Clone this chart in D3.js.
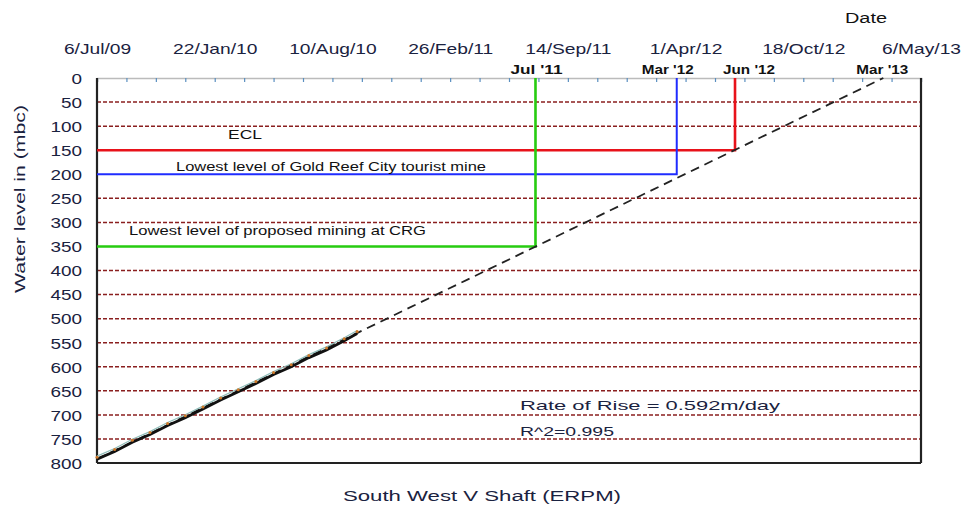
<!DOCTYPE html>
<html>
<head>
<meta charset="utf-8">
<script src="https://cdn.jsdelivr.net/npm/d3@7"></script>
<style>
  body { margin: 0; background: #fff; }
  svg { display: block; font-family: "Liberation Sans", Arial, sans-serif; }
</style>
</head>
<body>
<div id="chart"></div>
<script>
const parse = d3.timeParse("%Y-%m-%d");

// observed water level (metres below collar) at South West V Shaft
const obsDates = ["2009-07-06", "2009-08-05", "2009-09-04", "2009-10-04", "2009-11-03", "2009-12-03",
  "2010-01-02", "2010-02-01", "2010-03-03", "2010-04-02", "2010-05-02", "2010-06-01",
  "2010-07-01", "2010-07-31", "2010-08-30", "2010-09-21"];
const obsDepth = [792, 776, 757, 741, 722, 706, 688, 669, 652, 635, 616, 600, 581, 565, 546, 531];

// linear trend (rate of rise 0.592 m/day)
const trendDates = ["2009-07-06", "2013-03-03"];
const trendDepth = [792, 0];

// critical levels and the dates they are reached
const levelNames = ["ECL", "Lowest level of Gold Reef City tourist mine", "Lowest level of proposed mining at CRG"];
const levelDepth = [150, 200, 350];
const levelDates = ["2012-06-24", "2012-03-17", "2011-07-21"];
const levelColors = ["#e8121a", "#1f2cff", "#27cc10"];

const markerLabels = ["Jul '11", "Mar '12", "Jun '12", "Mar '13"];
const markerDates = ["2011-07-21", "2012-03-17", "2012-06-24", "2013-03-03"];

const yTicks = d3.range(0, 801, 50);
const gridDepth = [50, 100, 250, 300, 400, 450, 500, 550, 600, 650, 700, 750];

const width = 962, height = 512;
const margin = { top: 78, right: 41, bottom: 49, left: 97 };

const start = parse("2009-07-06");
const end = d3.timeDay.offset(start, 1400);

const x = d3.scaleTime().domain([start, end]).range([margin.left, width - margin.right]);
const y = d3.scaleLinear().domain([0, 800]).range([margin.top, height - margin.bottom]);

const svg = d3.select("#chart").append("svg")
  .attr("width", width).attr("height", height)
  .attr("viewBox", `0 0 ${width} ${height}`);

// stretch text a little wider, like the original picture
function widen(sel, k) {
  sel.each(function () {
    const w = this.getComputedTextLength();
    d3.select(this).attr("textLength", w * k).attr("lengthAdjust", "spacingAndGlyphs");
  });
}

// grid lines
svg.append("g").selectAll("line").data(gridDepth).join("line")
  .attr("x1", margin.left).attr("x2", width - margin.right)
  .attr("y1", d => y(d)).attr("y2", d => y(d))
  .attr("stroke", "#8a1f1f").attr("stroke-width", 1.5)
  .attr("stroke-dasharray", "4,2");

// top axis: minor ticks every 50 days, labels every 200 days
const minorTicks = d3.range(0, 1401, 50).map(d => d3.timeDay.offset(start, d));
const majorTicks = d3.range(0, 1401, 200).map(d => d3.timeDay.offset(start, d));

svg.append("g")
  .attr("transform", `translate(0,${margin.top})`)
  .call(d3.axisBottom(x).tickValues(minorTicks).tickSize(4).tickFormat(""))
  .call(g => g.select(".domain").attr("stroke", "#bbb").attr("stroke-width", 1.5))
  .call(g => g.selectAll(".tick line").attr("stroke", "#5a8fc0").attr("stroke-width", 1.2));

svg.append("g")
  .attr("transform", `translate(0,${margin.top})`)
  .call(d3.axisTop(x).tickValues(majorTicks).tickSize(0).tickPadding(24)
    .tickFormat(d3.timeFormat("%-d/%b/%y")))
  .call(g => g.select(".domain").remove())
  .call(g => g.selectAll(".tick text")
    .attr("font-size", 15).attr("fill", "#1a2240")
    .call(widen, 1.28));

// left axis
svg.append("g")
  .attr("transform", `translate(${margin.left},0)`)
  .call(d3.axisLeft(y).tickValues(yTicks).tickSize(0).tickPadding(15))
  .call(g => g.select(".domain").remove())
  .call(g => g.selectAll(".tick text")
    .attr("font-size", 14).attr("fill", "#1a2240")
    .attr("dy", "0.38em")
    .call(widen, 1.35));

// frame: left, bottom, right
const frame = svg.append("g").attr("stroke", "#222").attr("stroke-width", 2.2).attr("fill", "none");
frame.append("line").attr("x1", margin.left).attr("x2", margin.left).attr("y1", margin.top).attr("y2", y(800));
frame.append("line").attr("x1", margin.left).attr("x2", width - margin.right).attr("y1", y(800)).attr("y2", y(800));
frame.append("line").attr("x1", width - margin.right).attr("x2", width - margin.right).attr("y1", margin.top).attr("y2", y(800));

// critical levels
const levels = levelNames.map((n, i) => ({ name: n, depth: levelDepth[i], date: parse(levelDates[i]), color: levelColors[i] }));
svg.append("g").selectAll("path").data(levels).join("path")
  .attr("d", d => `M${margin.left},${y(d.depth)}H${x(d.date)}V${y(0)}`)
  .attr("fill", "none")
  .attr("stroke", d => d.color)
  .attr("stroke-width", (d, i) => i === 1 ? 2 : 2.6);

// level labels
const labelPos = [[228, 139, 34], [176, 171, 310], [129, 235, 297]];
svg.append("g").selectAll("text").data(levels).join("text")
  .attr("x", (d, i) => labelPos[i][0]).attr("y", (d, i) => labelPos[i][1])
  .attr("font-size", 13).attr("fill", "#111")
  .attr("textLength", (d, i) => labelPos[i][2]).attr("lengthAdjust", "spacingAndGlyphs")
  .text(d => d.name);

// trend line (dashed)
const trend = trendDates.map((d, i) => ({ date: parse(d), depth: trendDepth[i] }));
const line = d3.line().x(d => x(d.date)).y(d => y(d.depth));
svg.append("path")
  .attr("d", line(trend))
  .attr("fill", "none").attr("stroke", "#222").attr("stroke-width", 1.8)
  .attr("stroke-dasharray", "9,6");

// observed data
const obs = obsDates.map((d, i) => ({ date: parse(d), depth: obsDepth[i] }));
svg.append("path")
  .attr("d", line(obs))
  .attr("fill", "none").attr("stroke", "#8fbcb8").attr("stroke-width", 1.2)
  .attr("transform", "translate(0,-3)");
svg.append("path")
  .attr("d", line(obs))
  .attr("fill", "none").attr("stroke", "#111").attr("stroke-width", 2.8);
svg.append("g").selectAll("circle").data(obs).join("circle")
  .attr("cx", d => x(d.date)).attr("cy", d => y(d.depth) - 2).attr("r", 1.5)
  .attr("fill", "#d07a2a");

// date markers above the plot
svg.append("g").selectAll("text").data(markerLabels).join("text")
  .attr("x", (d, i) => x(parse(markerDates[i])) + [1, -9, 14, -1][i])
  .attr("y", 74)
  .attr("text-anchor", "middle")
  .attr("font-size", 13).attr("font-weight", "bold").attr("fill", "#111")
  .attr("textLength", 52).attr("lengthAdjust", "spacingAndGlyphs")
  .text(d => d);

// rate annotation
svg.append("text").attr("x", 520).attr("y", 410)
  .attr("font-size", 13).attr("fill", "#1a2240")
  .attr("textLength", 260).attr("lengthAdjust", "spacingAndGlyphs")
  .text("Rate of Rise = 0.592m/day");
svg.append("text").attr("x", 520).attr("y", 436)
  .attr("font-size", 13).attr("fill", "#1a2240")
  .attr("textLength", 94).attr("lengthAdjust", "spacingAndGlyphs")
  .text("R^2=0.995");

// axis titles
svg.append("text").attr("x", 866).attr("y", 23).attr("text-anchor", "middle")
  .attr("font-size", 14).attr("fill", "#111")
  .attr("textLength", 42).attr("lengthAdjust", "spacingAndGlyphs")
  .text("Date");
svg.append("text").attr("x", 482).attr("y", 501).attr("text-anchor", "middle")
  .attr("font-size", 14).attr("fill", "#1a2240")
  .attr("textLength", 278).attr("lengthAdjust", "spacingAndGlyphs")
  .text("South West V Shaft (ERPM)");
svg.append("text")
  .attr("transform", "translate(25,199) rotate(-90)")
  .attr("text-anchor", "middle")
  .attr("font-size", 14).attr("fill", "#1a2240")
  .attr("textLength", 188).attr("lengthAdjust", "spacingAndGlyphs")
  .text("Water level in (mbc)");
</script>
</body>
</html>
